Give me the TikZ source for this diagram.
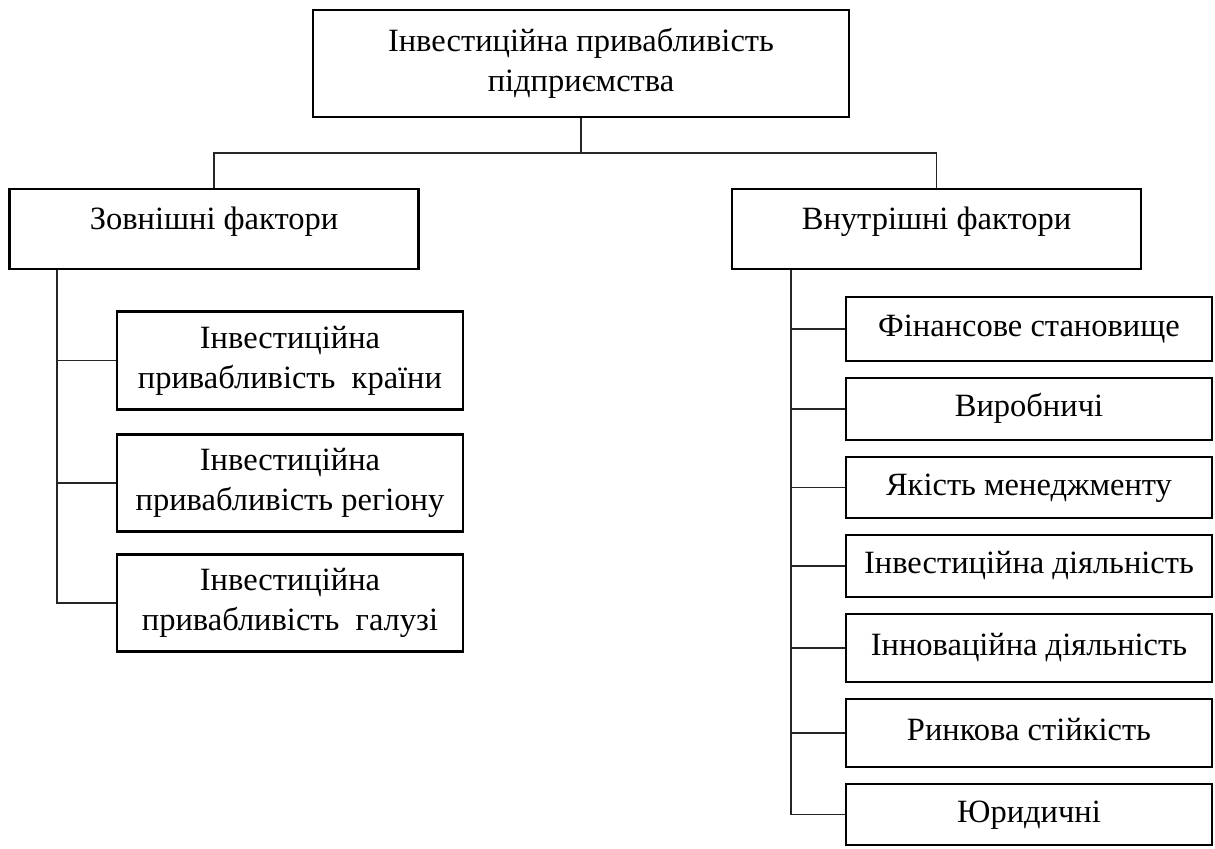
\documentclass[tikz,border=0pt]{standalone}
\usepackage{fontspec}
\setmainfont{Liberation Serif}
\usepackage{tikz}

\tikzset{
  mainbox/.style={draw, line width=1.5pt, align=center, inner sep=0pt,
    minimum width=10.72cm, minimum height=2.14cm},
  groupbox/.style={draw, line width=1.5pt, inner sep=0pt,
    minimum width=8.18cm, minimum height=1.6cm, text height=13pt, text depth=12pt},
  extbox/.style={draw, line width=1.5pt, align=center, inner sep=0pt,
    minimum width=6.92cm, minimum height=1.95cm},
  intbox/.style={draw, line width=1.5pt, inner sep=0pt,
    minimum width=7.32cm, text height=13pt, text depth=4pt},
  link/.style={line width=0.6pt, draw=black!85}
}

\begin{document}
\begin{tikzpicture}[x=0.02cm, y=-0.02cm,
  font=\fontsize{18.5}{22.7}\selectfont]
\useasboundingbox (0,0) rectangle (1215,849);

\node[mainbox] (top) at (581,63.5)
  {Інвестиційна привабливість\\підприємства};
\node[groupbox] (ext) at (214,229) {Зовнішні фактори};
\node[groupbox] (int) at (936.5,229) {Внутрішні фактори};

\node[extbox] (country) at (290,360.5)
  {Інвестиційна\\привабливість~ країни};
\node[extbox] (region) at (290,483)
  {Інвестиційна\\привабливість регіону};
\node[extbox] (branch) at (290,603)
  {Інвестиційна\\привабливість~ галузі};

\foreach \name/\ypos/\high/\label in {
  finance/329/1.28/Фінансове становище,
  product/409/1.24/Виробничі,
  manage/487.5/1.22/Якість менеджменту,
  invest/566/1.24/Інвестиційна діяльність,
  innov/648/1.36/Інноваційна діяльність,
  market/733/1.36/Ринкова стійкість,
  legal/814.5/1.22/Юридичні}
  \node[intbox, minimum height=\high cm] (\name) at (1029,\ypos) {\label};

\coordinate (hub) at (581,153);
\coordinate (lbus) at (57,0);
\coordinate (rbus) at (791,0);

\draw[link] (top.south) -- (hub);
\draw[link] (ext.north) |- (hub) -| (int.north);

\draw[link] (lbus |- ext.south) |- (branch.west);
\draw[link] (lbus |- country.west) -- (country.west);
\draw[link] (lbus |- region.west) -- (region.west);

\draw[link] (rbus |- int.south) |- (legal.west);
\foreach \name in {finance,product,manage,invest,innov,market}
  \draw[link] (rbus |- \name.west) -- (\name.west);
\end{tikzpicture}
\end{document}
